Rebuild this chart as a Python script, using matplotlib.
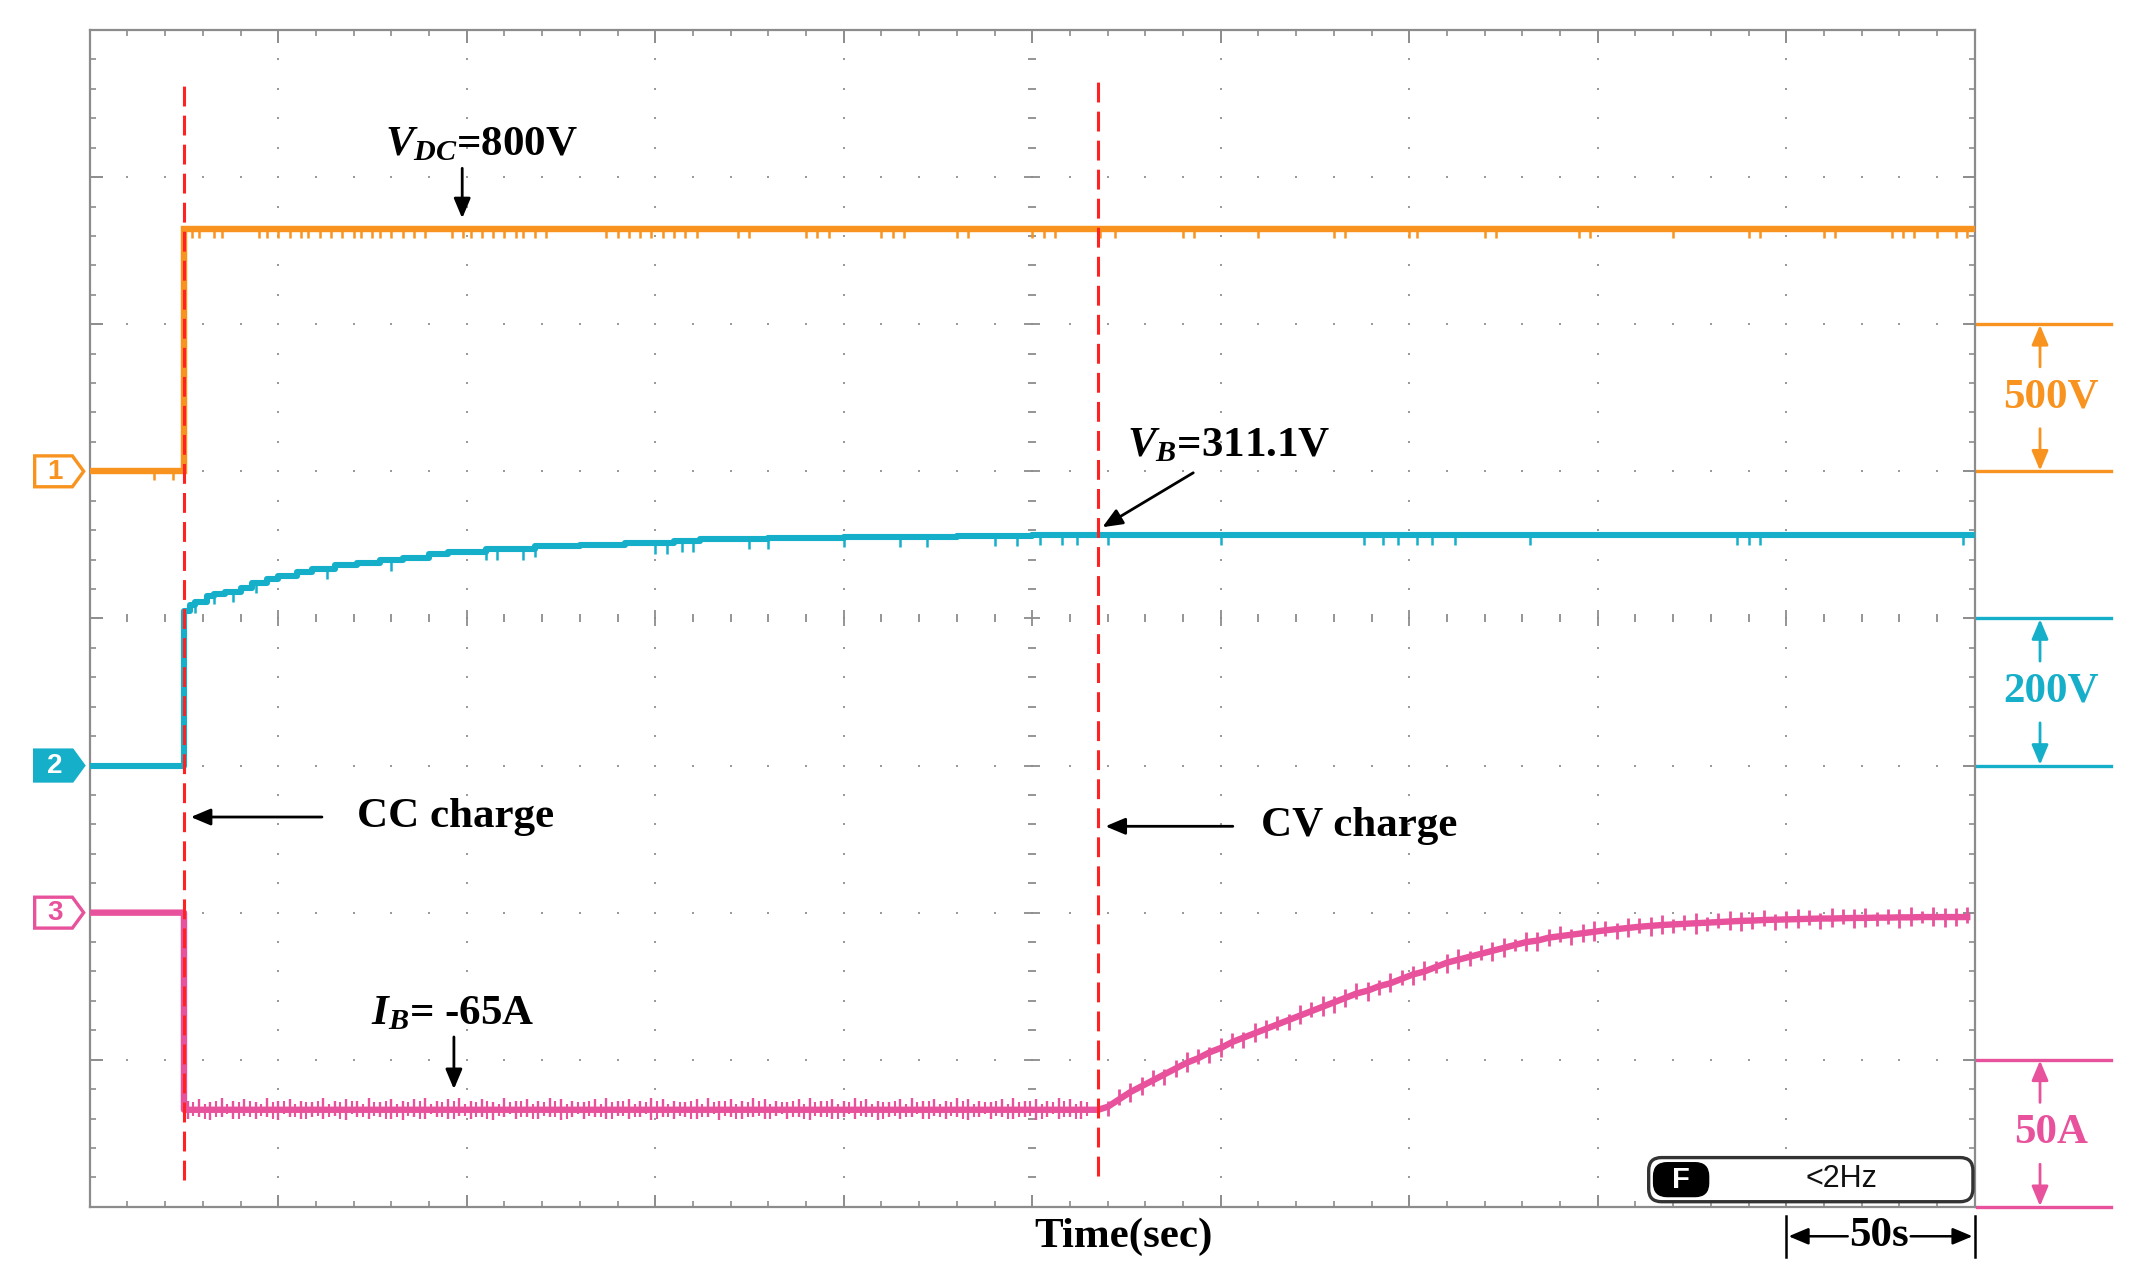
import numpy as np
import matplotlib
matplotlib.use("Agg")
import matplotlib.pyplot as plt
from matplotlib.patches import Polygon, FancyBboxPatch

plt.rcParams['mathtext.fontset'] = 'custom'
plt.rcParams['mathtext.rm'] = 'Liberation Serif:bold'
plt.rcParams['mathtext.it'] = 'Liberation Serif:italic:bold'
plt.rcParams['mathtext.bf'] = 'Liberation Serif:bold'

# ---------------- data (time in s, 50 s/div) ----------------
# channel settings: ground position (div) and scale (unit/div)
CH1_GROUND, CH1_SCALE = 5, 500.0   # V_DC  (500 V/div)
CH2_GROUND, CH2_SCALE = 3, 200.0   # V_B   (200 V/div)
CH3_GROUND, CH3_SCALE = 2, 50.0    # I_B   (50 A/div)

# Channel 1: DC-link voltage
vdc_t = [0, 25, 25, 500]
vdc_v = [0, 0, 824, 824]
vdc_glitch_t = [27, 29, 33, 35, 45, 47, 50, 53, 56, 58, 61, 64, 67, 70, 72, 75, 77,
                80, 83, 86, 89, 96, 99, 101, 104, 107, 110, 113, 115, 118, 121, 137,
                140, 143, 146, 149, 152, 155, 158, 161, 172, 175, 190, 193, 196, 210,
                213, 216, 230, 233, 250, 253, 256, 268, 272, 290, 293, 310, 330, 333,
                350, 352, 370, 373, 395, 398, 420, 440, 443, 460, 463, 478, 481, 484,
                490, 495, 498]
vdc_pre_glitch_t = [17, 22]
vdc_glitch_depth = 30

# Channel 2: battery voltage (step-like trace)
vb_t = [0, 25, 25, 26.5, 28, 31, 33, 36, 40, 43, 47, 50, 55, 59, 65, 71, 77, 83, 90,
        95, 105, 118, 130, 142, 155, 162, 180, 200, 230, 250, 500]
vb_v = [0, 0, 210, 218, 222, 230, 233, 236, 242, 248, 254, 258, 263, 267, 272, 276,
        279, 282, 287, 290, 294, 298, 300, 302, 305, 308, 309, 311, 312, 314, 314]
vb_glitch_t = [28, 33, 38, 44, 63, 80, 105, 108, 115, 118, 150, 153, 157, 160, 175, 180,
               200, 215, 222, 240, 246, 252, 258, 262, 270, 300, 338, 343, 347, 352,
               356, 362, 382, 437, 440, 443, 497]
vb_glitch_top = [222, 233, 236, 248, 267, 279, 294, 294, 294, 298, 302, 302, 305, 305,
                 308, 309, 311, 311, 311, 312, 312, 314, 314, 314, 314, 314, 314, 314,
                 314, 314, 314, 314, 314, 314, 314, 314, 314]
vb_glitch_depth = 14

# Channel 3: battery current
ib_t = [0, 25, 25, 267.5]
ib_i = [0, 0, -67, -67]
ib_ramp_t = [270, 273, 276, 279, 282, 285, 288, 291, 294, 297, 300, 303, 306, 309, 312,
             315, 318, 321, 324, 327, 330, 333, 336, 339, 342, 345, 348, 351, 354, 357,
             360, 363, 366, 369, 372, 375, 378, 381, 384, 387, 390, 393, 396, 399, 402,
             405, 408, 411, 414, 417, 420, 423, 426, 429, 432, 435, 438, 441, 444, 447,
             450, 453, 456, 459, 462, 465, 468, 471, 474, 477, 480, 483, 486, 489, 492,
             495, 498]
ib_ramp_i = [-66, -63.5, -61, -59, -57, -55, -53, -51, -49.5, -47.5, -46, -44, -42.5,
             -41, -39.5, -38, -36.5, -35, -33.5, -32, -30.5, -29, -27.5, -26.5, -25, -24,
             -22.5, -21, -20, -18.5, -17, -16, -15, -14, -13, -12, -11, -10, -9.5, -8.5,
             -8, -7.5, -7, -6.5, -6, -5.6, -5.2, -4.8, -4.5, -4.2, -4, -3.8, -3.6, -3.4,
             -3.2, -3, -2.8, -2.7, -2.5, -2.4, -2.3, -2.2, -2.1, -2, -2, -1.9, -1.8, -1.8,
             -1.7, -1.7, -1.6, -1.6, -1.5, -1.5, -1.5, -1.5, -1.5]
ib_ramp_dn = [3, 2, 3.5, 3, 2, 3.5, 3, 3, 2, 3.5, 3, 2, 3.5, 3, 3, 2, 3.5, 3, 2, 3,
              3.5, 3, 2, 3.5, 3, 3, 2, 3.5, 3, 2, 3.5, 3, 3, 2, 3.5, 3, 2, 3, 3.5, 3,
              2, 3.5, 3, 3, 2, 3.5, 3, 2, 3.5, 3, 3, 2, 3.5, 3, 2, 3, 3.5, 3, 2, 3.5,
              3, 3, 2, 3.5, 3, 2, 3.5, 3, 3, 2, 3.5, 3, 2, 3, 3.5, 3, 2]
ib_ramp_up = [2, 3.5, 3, 3, 3.5, 2, 3, 3.5, 3, 2, 3.5, 3, 2, 3.5, 3, 3, 2, 3.5, 3, 3.5,
              2, 3, 3.5, 3, 2, 3.5, 3, 3, 3.5, 2, 3, 3.5, 2, 3, 3, 3.5, 2, 3.5, 3, 3,
              3.5, 2, 3, 3.5, 3, 2, 3.5, 3, 3, 3.5, 2, 3, 3.5, 2, 3, 3.5, 3, 3, 3.5, 2,
              3, 3.5, 3, 2, 3.5, 3, 3, 3.5, 2, 3, 3, 3.5, 2, 3.5, 3, 3, 3.5]
ib_flat_spike_t = [26, 29, 32, 35, 38, 41, 44, 47, 50, 53, 56, 59, 62, 65, 68, 71, 74, 77,
                   80, 83, 86, 89, 92, 95, 98, 101, 104, 107, 110, 113, 116, 119, 122,
                   125, 128, 131, 134, 137, 140, 143, 146, 149, 152, 155, 158, 161, 164,
                   167, 170, 173, 176, 179, 182, 185, 188, 191, 194, 197, 200, 203, 206,
                   209, 212, 215, 218, 221, 224, 227, 230, 233, 236, 239, 242, 245, 248,
                   251, 254, 257, 260, 263]
ib_flat_spike_lo = [-70, -69.5, -70.5, -69.5, -70, -69, -70, -69.5, -70.5, -69.5,
                    -70, -69.5, -70, -69, -70.5, -69.5, -70, -69.5, -70, -70.5,
                    -69.5, -70, -69.5, -70, -69, -70, -69.5, -70.5, -69.5, -70,
                    -69.5, -70, -69.5, -70.5, -69.5, -70, -69.5, -70, -69, -70,
                    -69.5, -70.5, -69.5, -70, -69.5, -70, -69.5, -70.5, -69.5, -70,
                    -69.5, -70, -69, -70, -69.5, -70.5, -69.5, -70, -69.5, -70,
                    -69.5, -70.5, -69.5, -70, -69.5, -70, -69, -70, -69.5, -70.5,
                    -69.5, -70, -69.5, -70, -69.5, -70.5, -69.5, -70, -69.5, -70]
ib_flat_spike_hi = [-64, -63.5, -64.5, -63, -64, -63.5, -64.5, -63, -64, -63.5,
                    -64, -64.5, -63, -64, -63.5, -64, -63, -64.5, -63.5, -64,
                    -63.5, -63, -64, -63.5, -63, -64, -63.5, -64.5, -63, -64,
                    -63.5, -64, -63, -63.5, -64, -64.5, -63.5, -63, -64, -63.5,
                    -64, -63, -63.5, -64, -64.5, -63.5, -63, -64, -63.5, -64,
                    -63, -63.5, -64, -64.5, -63.5, -63, -64, -63.5, -64, -63,
                    -63.5, -64, -64.5, -63.5, -63, -64, -63.5, -64, -63, -63.5,
                    -64, -64.5, -63.5, -63, -64, -63.5, -64, -63, -63.5, -64]
ib_flat_spike2_t = [27.5, 30.5, 33.5, 36.5, 39.5, 42.5, 45.5, 48.5, 51.5, 54.5, 57.5,
                    60.5, 63.5, 66.5, 69.5, 72.5, 75.5, 78.5, 81.5, 84.5, 87.5, 90.5,
                    93.5, 96.5, 99.5, 102.5, 105.5, 108.5, 111.5, 114.5, 117.5, 120.5,
                    123.5, 126.5, 129.5, 132.5, 135.5, 138.5, 141.5, 144.5, 147.5,
                    150.5, 153.5, 156.5, 159.5, 162.5, 165.5, 168.5, 171.5, 174.5,
                    177.5, 180.5, 183.5, 186.5, 189.5, 192.5, 195.5, 198.5, 201.5,
                    204.5, 207.5, 210.5, 213.5, 216.5, 219.5, 222.5, 225.5, 228.5,
                    231.5, 234.5, 237.5, 240.5, 243.5, 246.5, 249.5, 252.5, 255.5,
                    258.5, 261.5, 264.5]
ib_flat_spike2_lo = [-69, -70, -69.5, -68.5, -70, -69.5, -69, -70, -68.5, -69.5,
                     -70, -69, -69.5, -70, -68.5, -69.5, -69, -70, -69.5, -69,
                     -70, -68.5, -69.5, -70, -69, -69.5, -70, -69, -68.5, -69.5,
                     -70, -69, -69.5, -70, -68.5, -69, -69.5, -70, -69, -69.5,
                     -68.5, -70, -69.5, -69, -70, -69.5, -68.5, -69, -70, -69.5,
                     -69, -70, -68.5, -69.5, -70, -69, -69.5, -70, -68.5, -69,
                     -69.5, -70, -69, -69.5, -68.5, -70, -69.5, -69, -70, -69.5,
                     -68.5, -69, -70, -69.5, -69, -70, -68.5, -69.5, -70, -69]
ib_flat_spike2_hi = [-64.5, -65, -64, -65, -64.5, -64, -65, -64.5, -64, -65,
                     -64.5, -64, -65, -64.5, -64, -65, -64.5, -64, -65, -64.5,
                     -64, -65, -64.5, -64, -65, -64.5, -64, -65, -64.5, -64,
                     -65, -64.5, -64, -65, -64.5, -64, -65, -64.5, -64, -65,
                     -64.5, -64, -65, -64.5, -64, -65, -64.5, -64, -65, -64.5,
                     -64, -65, -64.5, -64, -65, -64.5, -64, -65, -64.5, -64,
                     -65, -64.5, -64, -65, -64.5, -64, -65, -64.5, -64, -65,
                     -64.5, -64, -65, -64.5, -64, -65, -64.5, -64, -65, -64.5]

# event markers (s)
cc_start_t = 25
cv_start_t = 267.5

# ---------------- style ----------------
ORANGE = '#F7931E'
CYAN = '#16AFCA'
PINK = '#E8529C'
RED = '#FF2222'
GRAY = '#8c8c8c'
DOT = '#9a9a9a'
SERIF = 'Liberation Serif'
SANS = 'Liberation Sans'
FS = 31


def to_div(vals, ground, scale):
    return ground + np.asarray(vals, dtype=float) / scale


fig = plt.figure(figsize=(21.31, 12.88), dpi=100)
ax = fig.add_axes([0.0421, 0.0630, 0.8846, 0.9137])
ax.set_xlim(0, 500)
ax.set_ylim(0, 8)
for s in ax.spines.values():
    s.set_color(GRAY)
    s.set_linewidth(1.6)
ax.set_xticks(np.arange(0, 501, 50))
ax.set_xticks(np.arange(0, 501, 10), minor=True)
ax.set_yticks(np.arange(0, 9, 1))
ax.set_yticks(np.arange(0, 8.01, 0.2), minor=True)
ax.tick_params(which='both', direction='in', top=True, right=True,
               labelbottom=False, labelleft=False, color=GRAY)
ax.tick_params(which='major', length=9, width=1.4)
ax.tick_params(which='minor', length=4, width=1.2)

# oscilloscope graticule: dotted lines
gx = []
gy = []
for xm in range(50, 500, 50):
    if xm == 250:
        continue
    for yy in np.arange(0.2, 8.0, 0.2):
        gx.append(xm)
        gy.append(yy)
for ym in range(1, 8):
    if ym == 4:
        continue
    for xx in range(10, 500, 10):
        gx.append(xx)
        gy.append(ym)
ax.scatter(gx, gy, s=4, marker='s', color=DOT, linewidths=0, zorder=1)
# center cross ticks
cx_minor = [x for x in range(10, 500, 10) if x % 50 != 0]
cx_major = [x for x in range(50, 500, 50)]
ax.plot(cx_minor, [4] * len(cx_minor), ls='none', marker='|', ms=6, mew=1.3, color=GRAY, zorder=1)
ax.plot(cx_major, [4] * len(cx_major), ls='none', marker='|', ms=12, mew=1.3, color=GRAY, zorder=1)
cy_minor = [y for y in np.arange(0.2, 8.0, 0.2) if abs(y - round(y)) > 1e-6]
cy_major = list(range(1, 8))
ax.plot([250] * len(cy_minor), cy_minor, ls='none', marker='_', ms=6, mew=1.3, color=GRAY, zorder=1)
ax.plot([250] * len(cy_major), cy_major, ls='none', marker='_', ms=12, mew=1.3, color=GRAY, zorder=1)

# ---------------- traces ----------------
# channel 1
y1 = to_div(vdc_v, CH1_GROUND, CH1_SCALE)
ax.plot(vdc_t, y1, color=ORANGE, lw=4.6, zorder=3, solid_joinstyle='miter')
top1 = CH1_GROUND + 824 / CH1_SCALE
ax.vlines(vdc_glitch_t, top1 - vdc_glitch_depth / CH1_SCALE, top1, color=ORANGE, lw=1.8, zorder=3)
ax.vlines(vdc_pre_glitch_t, CH1_GROUND - vdc_glitch_depth / CH1_SCALE, CH1_GROUND,
          color=ORANGE, lw=1.8, zorder=3)

# channel 2
y2 = to_div(vb_v, CH2_GROUND, CH2_SCALE)
ax.plot(vb_t, y2, color=CYAN, lw=4.4, drawstyle='steps-post', zorder=3)
gt2 = to_div(vb_glitch_top, CH2_GROUND, CH2_SCALE)
ax.vlines(vb_glitch_t, gt2 - vb_glitch_depth / CH2_SCALE, gt2, color=CYAN, lw=1.8, zorder=3)

# channel 3
y3 = to_div(ib_i, CH3_GROUND, CH3_SCALE)
y3r = to_div(ib_ramp_i, CH3_GROUND, CH3_SCALE)
ax.plot(list(ib_t) + list(ib_ramp_t), list(y3) + list(y3r), color=PINK, lw=4.6, zorder=3)
ax.vlines(ib_flat_spike_t, to_div(ib_flat_spike_lo, CH3_GROUND, CH3_SCALE),
          to_div(ib_flat_spike_hi, CH3_GROUND, CH3_SCALE), color=PINK, lw=1.7, zorder=3)
ax.vlines(ib_flat_spike2_t, to_div(ib_flat_spike2_lo, CH3_GROUND, CH3_SCALE),
          to_div(ib_flat_spike2_hi, CH3_GROUND, CH3_SCALE), color=PINK, lw=1.5, zorder=3)
rlo = np.asarray(ib_ramp_i) - np.asarray(ib_ramp_dn)
rhi = np.asarray(ib_ramp_i) + np.asarray(ib_ramp_up)
ax.vlines(ib_ramp_t, to_div(rlo, CH3_GROUND, CH3_SCALE), to_div(rhi, CH3_GROUND, CH3_SCALE),
          color=PINK, lw=2.0, zorder=3)

# red dashed event lines
ax.plot([cc_start_t, cc_start_t], [0.185, 7.65], color=RED, lw=2.2,
        dashes=(6.5, 3.0), zorder=4)
ax.plot([cv_start_t, cv_start_t], [0.21, 7.68], color=RED, lw=2.2,
        dashes=(6.5, 3.0), zorder=4)

# ---------------- annotations ----------------
def arrow(tail, tip, color='k', lw=2.0, ms=12):
    ax.annotate('', xy=tip, xytext=tail, annotation_clip=False,
                arrowprops=dict(arrowstyle='-|>,head_length=1.0,head_width=0.42',
                                color=color, lw=lw, shrinkA=0, shrinkB=0,
                                mutation_scale=ms), zorder=6)

txt = dict(family=SERIF, weight='bold', fontsize=FS, ha='center', va='center', zorder=6)
ax.text(104, 7.215, r'$V_{DC}$=800V', **txt)
arrow((98.8, 7.06), (98.8, 6.72))
ax.text(302, 5.17, r'$V_B$=311.1V', **txt)
arrow((292.7, 4.99), (268.6, 4.62))
ax.text(97, 2.65, 'CC charge', **txt)
arrow((61.6, 2.65), (26.8, 2.65))
ax.text(336.7, 2.587, 'CV charge', **txt)
arrow((303.2, 2.587), (269.4, 2.587))
ax.text(96.4, 1.312, r'$I_B$= -65A', **txt)
arrow((96.6, 1.155), (96.6, 0.80))
ax.text(274.3, -0.2, 'Time(sec)', clip_on=False, **txt)

# 50 s bracket
ax.plot([450, 450], [-0.065, -0.34], color='k', lw=1.8, clip_on=False)
ax.plot([500, 500], [-0.065, -0.34], color='k', lw=1.8, clip_on=False)
ax.text(474.7, -0.2, '50s', clip_on=False, **txt)
arrow((466.3, -0.2), (450.6, -0.2), lw=1.8)
arrow((483.0, -0.2), (499.4, -0.2), lw=1.8)

# F <2Hz box
aspect = (8 / 1176.9) / (500 / 1885.0)
ax.add_patch(FancyBboxPatch((413.5, 0.035), 86.0, 0.30,
                            boxstyle='round,pad=0,rounding_size=3.4',
                            mutation_aspect=aspect, fc='white', ec='#333333',
                            lw=2.4, zorder=5, clip_on=False))
ax.add_patch(FancyBboxPatch((414.8, 0.07), 14.6, 0.23,
                            boxstyle='round,pad=0,rounding_size=3.6',
                            mutation_aspect=aspect, fc='black', ec='black',
                            lw=1.0, zorder=6, clip_on=False))
ax.text(422.1, 0.183, 'F', family=SANS, weight='bold', fontsize=21, color='white',
        ha='center', va='center', zorder=7)
ax.text(464.6, 0.19, '<2Hz', family=SANS, fontsize=22, color='#111111',
        ha='center', va='center', zorder=7)

# right-hand scale brackets
def bracket(y0, y1_, color, label):
    ax.plot([500.6, 536.0], [y0, y0], color=color, lw=2.4, clip_on=False)
    ax.plot([500.6, 536.0], [y1_, y1_], color=color, lw=2.4, clip_on=False)
    ym = (y0 + y1_) / 2
    arrow((517.3, ym + 0.21), (517.3, y1_ - 0.005), color=color, lw=2.0)
    arrow((517.3, ym - 0.21), (517.3, y0 + 0.005), color=color, lw=2.0)
    ax.text(520.3, ym, label, color=color, family=SERIF, weight='bold', fontsize=FS,
            ha='center', va='center', clip_on=False)

bracket(CH1_GROUND, CH1_GROUND + 1, ORANGE, '500V')
bracket(CH2_GROUND, CH2_GROUND + 1, CYAN, '200V')
bracket(CH3_GROUND - 2, CH3_GROUND - 1, PINK, '50A')

# channel ground markers
def marker(yc, label, color, filled):
    h = 0.105
    pts = [(-14.6, yc - h), (-4.6, yc - h), (-1.6, yc), (-4.6, yc + h), (-14.6, yc + h)]
    ax.add_patch(Polygon(pts, closed=True, fc=color if filled else 'white', ec=color,
                         lw=2.4, clip_on=False, zorder=6))
    ax.text(-9.3, yc - 0.005, label, color='white' if filled else color, family=SANS,
            weight='bold', fontsize=20, ha='center', va='center', clip_on=False, zorder=7)

marker(CH1_GROUND, '1', ORANGE, False)
marker(CH2_GROUND, '2', CYAN, True)
marker(CH3_GROUND, '3', PINK, False)

fig.savefig('out.png', dpi=100, facecolor='white')
